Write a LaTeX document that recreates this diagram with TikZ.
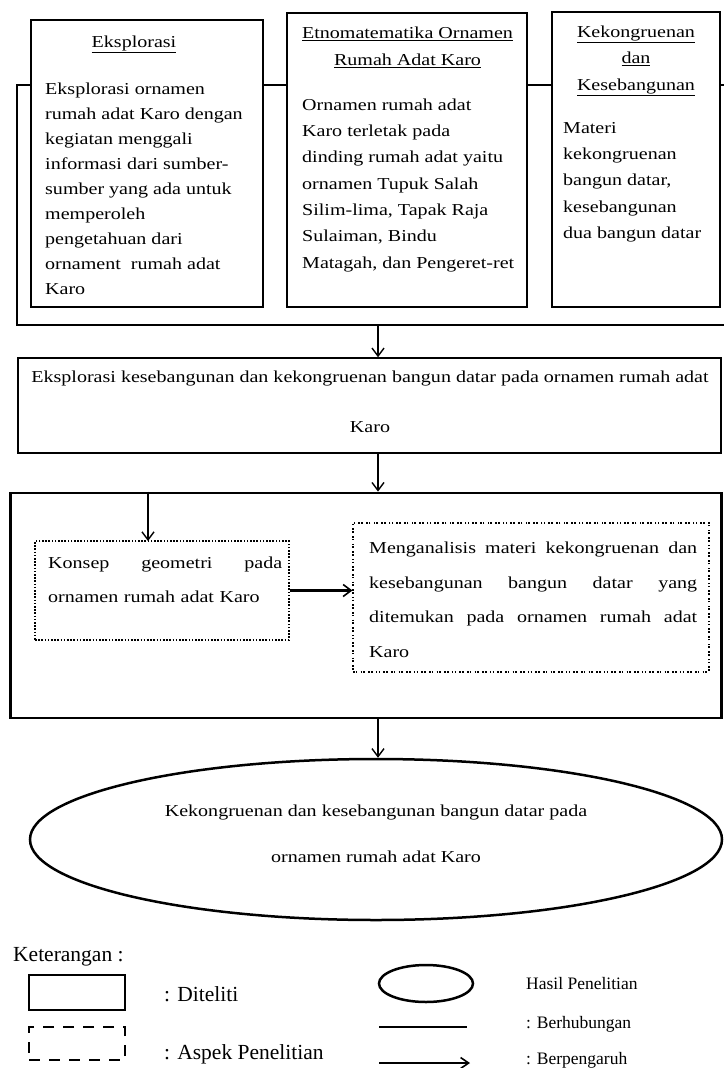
\documentclass[tikz,border=0pt]{standalone}
\usepackage{fontspec}
\setmainfont{Liberation Serif}
\newfontfamily\cam[FakeStretch=1.2]{Liberation Serif}
\usetikzlibrary{arrows.meta,shapes.geometric,calc}
\begin{document}
\begin{tikzpicture}[x=1pt,y=-1pt,
  box/.style={draw, line width=1.1pt, inner sep=0pt},
  thickbox/.style={draw, line width=2.8pt, inner sep=0pt},
  bracket/.style={line width=2.6pt},
  arr/.style={line width=1.4pt, -{Straight Barb[length=8pt,width=12pt,line width=1.4pt]}},
  dotbox/.style={draw, line width=1.1pt, inner sep=0pt, dash pattern=on 1.6pt off 1.6pt},
  dashdotbox/.style={draw, line width=1.1pt, inner sep=0pt, dash pattern=on 1.6pt off 1.2pt on 1.6pt off 3.2pt},
  txt/.style={inner sep=0pt, font=\cam\fontsize{16.7pt}{25pt}\selectfont},
  legl/.style={inner sep=0pt, anchor=base west, font=\fontsize{21.5pt}{24pt}\selectfont},
  legr/.style={inner sep=0pt, anchor=base west, font=\fontsize{17.5pt}{20pt}\selectfont}]
\useasboundingbox (0,0) rectangle (724,1068);
\fill[white] (0,0) rectangle (724,1068);

% ---- top boxes
\node[box, minimum width=232pt, minimum height=287pt] (b1) at (147,163.5) {};
\node[box, minimum width=240pt, minimum height=294pt] (b2) at (407,160) {};
\node[box, minimum width=168pt, minimum height=295pt] (b3) at (636,159.5) {};

\coordinate (brTL) at (17,85);
\coordinate (brBL) at (17,325);
\coordinate (brBR) at (724,325);
\coordinate (brTR) at (724,85);
\draw[bracket] (b1.west |- brTL) -- (brTL) -- (brBL) -- (brBR);
\draw[bracket] (b1.east |- brTL) -- (b2.west |- brTL);
\draw[bracket] (b2.east |- brTL) -- (b3.west |- brTL);
\draw[bracket] (b3.east |- brTR) -- (brTR);

% titles
\node[txt, anchor=base] (t1) at (134,47) {\underline{Eksplorasi}};
\node[txt, anchor=north, align=center, font=\cam\fontsize{16.7pt}{27pt}\selectfont] (t2) at (407.5,26.6)
  {\underline{Etnomatematika Ornamen}\\\underline{Rumah Adat Karo}};
\node[txt, anchor=north, align=center, font=\cam\fontsize{16.7pt}{26.5pt}\selectfont] (t3) at (636,25.6)
  {\underline{Kekongruenan}\\\underline{dan}\\\underline{Kesebangunan}};

% bodies
\node[txt, anchor=north west, align=left] (p1) at (45,82.6)
  {Eksplorasi ornamen\\rumah adat Karo dengan\\kegiatan menggali\\informasi dari sumber-\\sumber yang ada untuk\\memperoleh\\pengetahuan dari\\ornament\ \ rumah adat\\Karo};
\node[txt, anchor=north west, align=left, font=\cam\fontsize{16.7pt}{26.3pt}\selectfont] (p2) at (302,98.6)
  {Ornamen rumah adat\\Karo terletak pada\\dinding rumah adat yaitu\\ornamen Tupuk Salah\\Silim-lima, Tapak Raja\\Sulaiman, Bindu\\Matagah, dan Pengeret-ret};
\node[txt, anchor=north west, align=left, font=\cam\fontsize{16.7pt}{26.3pt}\selectfont] (p3) at (563,122)
  {Materi\\kekongruenan\\bangun datar,\\kesebangunan\\dua bangun datar};

% ---- box 4
\coordinate (ax) at (378,0);
\node[draw, line width=1.5pt, inner sep=0pt, minimum width=703pt, minimum height=95pt] (b4) at (369.5,405.5) {};
\node[txt, anchor=north, align=center, font=\cam\fontsize{16.7pt}{50pt}\selectfont] (p4) at (370,370.6)
  {Eksplorasi kesebangunan dan kekongruenan bangun datar pada ornamen rumah adat\\Karo};
\draw[arr] (ax |- brBL) -- (ax |- b4.north);

% ---- big box 5
\node[thickbox, minimum width=711pt, minimum height=225pt] (big) at (366,605.5) {};
\draw[arr] (ax |- b4.south) -- (ax |- big.north);

\node[dotbox, minimum width=254pt, minimum height=99pt] (d1) at (162,590.5) {};
\node[dashdotbox, minimum width=356pt, minimum height=149pt] (d2) at (531,597.5) {};
\node[txt, anchor=north west, align=left, text width=234pt, font=\cam\fontsize{16.7pt}{34pt}\selectfont] (p5) at (48,556.6)
  {Konsep\hfill geometri\hfill pada\\ornamen rumah adat Karo};
\node[txt, anchor=north west, align=left, text width=328pt, font=\cam\fontsize{16.7pt}{34.7pt}\selectfont] (p6) at (369,541.6)
  {Menganalisis\hfill materi\hfill kekongruenan\hfill dan\\kesebangunan\hfill bangun\hfill datar\hfill yang\\ditemukan\hfill pada\hfill ornamen\hfill rumah\hfill adat\\Karo};
\coordinate (a3) at (148,541);
\draw[arr] (a3 |- big.north) -- (a3);
\draw[line width=2.2pt, -{Straight Barb[length=8pt,width=12pt,line width=1.6pt]}] (d1.east) -- (d1.east -| d2.west);

% ---- result ellipse
\node[draw, ellipse, line width=2.5pt, inner sep=0pt, minimum width=692pt, minimum height=161pt] (res) at (376,839.5) {};
\node[txt, anchor=north, align=center, font=\cam\fontsize{16.7pt}{46pt}\selectfont] (p7) at (376,804.6)
  {Kekongruenan dan kesebangunan bangun datar pada\\ornamen rumah adat Karo};
\draw[arr] (ax |- big.south) -- (ax |- res.north);

% ---- legend
\node[legl] (k0) at (13,961) {Keterangan :};
\node[draw, line width=2.6pt, inner sep=0pt, minimum width=96pt, minimum height=35pt] (lg1) at (77,992.5) {};
\node[legl] (k1) at (164,1001) {: Diteliti};
\node[draw, line width=2.6pt, inner sep=0pt, dash pattern=on 11pt off 9pt, minimum width=96pt, minimum height=33pt] (lg2) at (77,1043.5) {};
\node[legl] (k2) at (164,1059) {: Aspek Penelitian};
\node[draw, ellipse, line width=2.5pt, inner sep=0pt, minimum width=94pt, minimum height=37pt] (lg3) at (426,983.5) {};
\node[legr] (k3) at (526,989) {Hasil Penelitian};
\coordinate (lnA) at (379,1027);
\coordinate (lnB) at (467,1027);
\draw[line width=2pt] (lnA) -- (lnB);
\node[legr] (k4) at (526,1028) {: Berhubungan};
\coordinate (arA) at (379,1063);
\coordinate (arB) at (470,1063);
\draw[line width=2pt, -{Straight Barb[length=8pt,width=11pt,line width=1.6pt]}] (arA) -- (arB);
\node[legr] (k5) at (526,1064) {: Berpengaruh};
\end{tikzpicture}
\end{document}
